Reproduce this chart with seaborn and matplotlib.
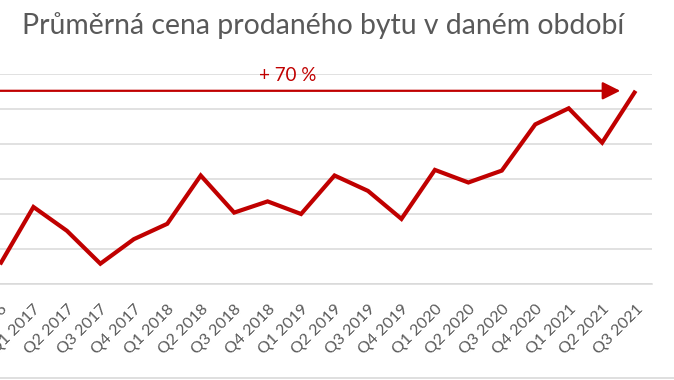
import matplotlib
matplotlib.use("Agg")
import matplotlib.pyplot as plt
from matplotlib.lines import Line2D
import seaborn as sns
import numpy as np

# prumerna cena prodaneho bytu (mil. Kc), ctvrtletne
quarters = ['Q4 2016',
            'Q1 2017', 'Q2 2017', 'Q3 2017', 'Q4 2017',
            'Q1 2018', 'Q2 2018', 'Q3 2018', 'Q4 2018',
            'Q1 2019', 'Q2 2019', 'Q3 2019', 'Q4 2019',
            'Q1 2020', 'Q2 2020', 'Q3 2020', 'Q4 2020',
            'Q1 2021', 'Q2 2021', 'Q3 2021']
prices = [3.28, 4.10, 3.76, 3.29, 3.64, 3.86, 4.55, 4.02, 4.18, 4.00,
          4.55, 4.33, 3.93, 4.63, 4.45, 4.62, 5.28, 5.51, 5.02, 5.76]
y_ticks = [3.0, 3.5, 4.0, 4.5, 5.0, 5.5, 6.0]
growth_label = '+ 70 %'

sns.set_theme(style='white')
plt.rcParams['font.family'] = ['Lato', 'DejaVu Sans']

red = '#c00000'
grey_text = '#595959'

fig = plt.figure(figsize=(6.74, 3.8), dpi=100)
ax = fig.add_axes([0, 96 / 380, 652 / 674, 210 / 380])

x = np.arange(len(quarters))
sns.lineplot(x=x, y=prices, ax=ax, color=red, linewidth=3,
             solid_joinstyle='miter', solid_capstyle='butt')

ax.set_xlim(0.075, len(quarters) - 0.51)
ax.set_ylim(y_ticks[0], y_ticks[-1])
ax.set_yticks(y_ticks)
ax.yaxis.grid(True, color='#d9d9d9', linewidth=1.1)
ax.set_axisbelow(True)
ax.tick_params(axis='y', left=False, labelleft=False)
ax.set_xticks(x)
ax.set_xticklabels(quarters, rotation=45, ha='right', rotation_mode='anchor',
                   fontsize=11.5, color=grey_text)
ax.tick_params(axis='x', length=0, pad=13)
for side in ['left', 'right', 'top']:
    ax.spines[side].set_visible(False)
ax.spines['bottom'].set_color('#d9d9d9')
ax.spines['bottom'].set_linewidth(1.1)

# sipka rustu
ax.annotate('', xy=(len(quarters) - 1.46, prices[-1]), xytext=(-0.5, prices[-1]),
            arrowprops=dict(arrowstyle='-|>,head_length=0.9,head_width=0.45',
                            color=red, lw=1.6, shrinkA=0, shrinkB=0),
            annotation_clip=False)
ax.text(8.6, y_ticks[-1] - 0.02, growth_label, color=red, fontsize=13.5,
        ha='center', va='center')

fig.text(323 / 674, 1 - 26 / 380, 'Průměrná cena prodaného bytu v daném období',
         ha='center', va='center', fontsize=20.4, color=grey_text)

fig.add_artist(Line2D([0, 1], [2.5 / 380, 2.5 / 380], color='#d9d9d9', linewidth=1.2))

fig.savefig('out.png', dpi=100, facecolor='white')
